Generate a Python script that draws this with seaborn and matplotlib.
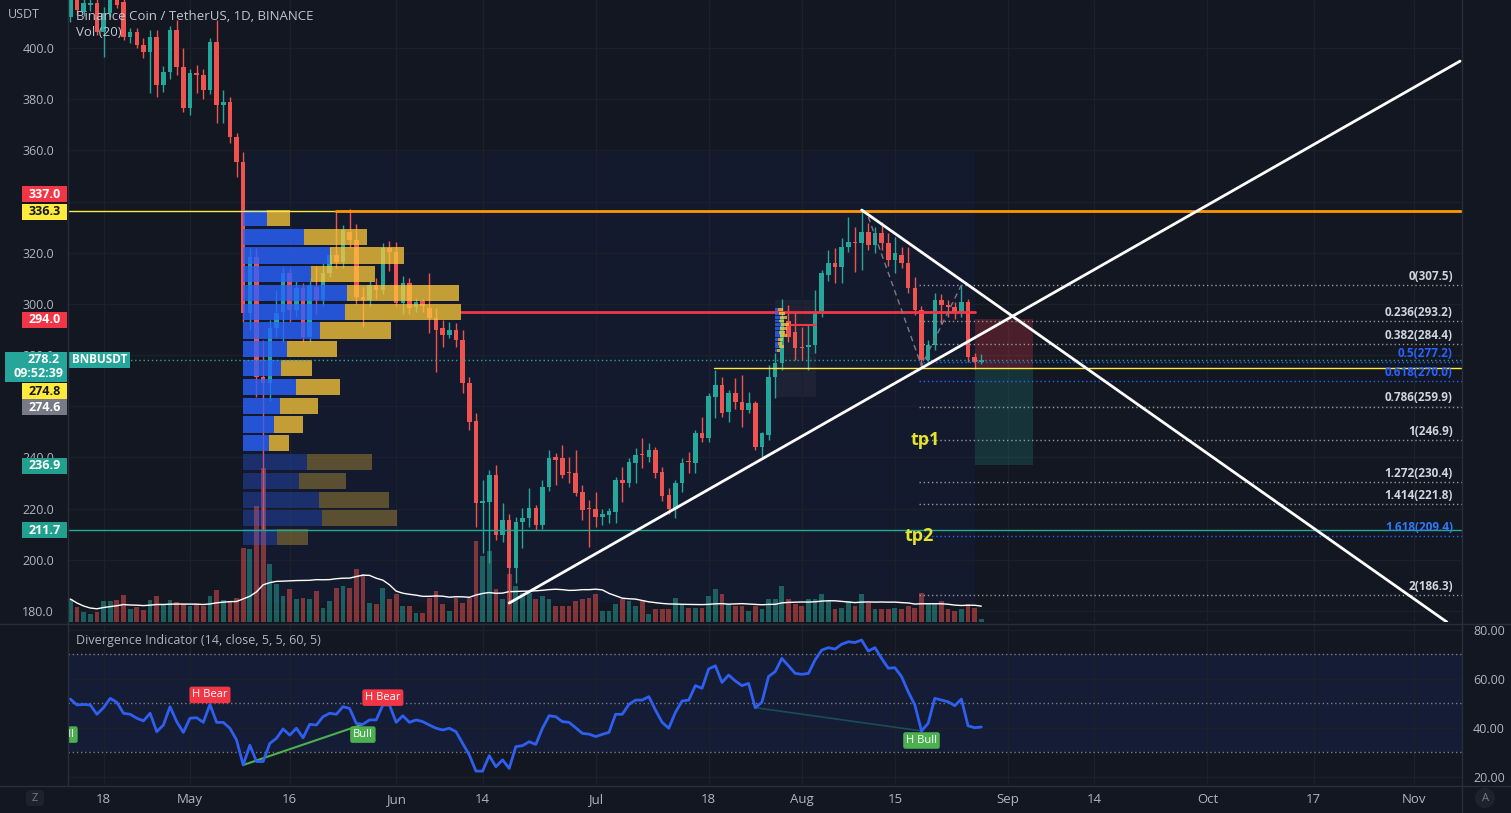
import numpy as np
import pandas as pd
import matplotlib
matplotlib.use("Agg")
import matplotlib.pyplot as plt
import seaborn as sns
from matplotlib.patches import Rectangle, FancyBboxPatch, Circle
from matplotlib.transforms import Affine2D, blended_transform_factory
from matplotlib.lines import Line2D

# ---------------------------------------------------------------- data
start_date = "2022-04-13"

opens = [412, 421, 414.2, 417, 417.5, 406.4, 413.7, 421, 418, 404.4, 406.3, 401.2, 398.5, 404.3, 385.5,
         390.7, 407, 392.6, 376.6, 390.3, 389.5, 383.6, 402.4, 377.7, 379, 365.2, 355.5,
         296.5, 318.3, 271.4, 269.1, 290.6, 297, 312, 297.6, 306.1, 287.2, 306.7, 301.5, 312, 319.1,
         316.5, 328.2, 325, 302.8, 301.5, 307.4, 305.4, 321.7, 320.4, 300.2, 308.1, 298.9, 301, 298.3,
         294.4, 290.5, 287.9, 289.8, 285.9, 269.2, 254.2, 222.1, 222.7, 233.1, 209.7, 215.5, 196.7,
         214.9, 216.2, 220.1, 213.6, 228.6, 240.3, 239.7, 234.5, 233.8, 226.6, 220.3, 219.7,
         216.6, 217.5, 218.8, 231.2, 229.9, 237.9, 241.5, 240.3, 242.9, 234.4, 225.3, 219.7, 229.9,
         238.7, 237.9, 249.4, 247.5, 263.7, 268.3, 257.9, 265.1, 261.8, 258.5, 261.2, 244.2, 248.8,
         271.6, 276.8, 293.5, 289, 283.3, 283.3, 284, 297, 311.3, 315.9, 314.5, 322.4, 324.3, 323.7,
         328.2, 323, 327.6, 323.7, 317.2, 319.1, 315.9, 306.1, 297.6, 278.1, 284, 301.5, 299.6, 298.9,
         296.3, 300.9, 279.4, 277.4]
highs = [424, 424, 420, 421, 419.5, 416, 423, 425, 426, 408, 408, 404, 407, 407, 393, 408.5, 411, 400,
         392, 393.4, 392, 404, 411, 383.6, 381, 366.8, 359.4,
         321.9, 322, 286, 293.7, 305.4, 314.5, 314, 309, 308, 310, 315, 316, 322.4, 336.5, 331, 337.0,
         331.4, 306.7, 309, 310, 324, 324.6, 324.3, 311, 310, 302.5, 302, 312, 298.3, 293.7, 293,
         292.4, 289.8, 271.6, 257.3, 231, 235.1, 237, 222.1, 218, 216.8, 220.1, 227.9, 221.4, 231.2,
         242.9, 241.6, 244.9, 240.3, 242.9, 229.2, 223.4, 226.6,
         219.7, 220.2, 232.5, 236.4, 239.7, 243.6, 247.5, 245.5, 244, 236.4, 227.9, 231.2, 239.7,
         242.3, 250.7, 256, 265.1, 274.2, 271.6, 266.4, 270.9, 272.2, 265.7, 262, 250, 276, 280.7,
         302, 299.6, 297, 291.1, 291.8, 305.4, 313.3, 321, 321.7, 325.6, 334.1, 330.2, 336.7, 331.5,
         330, 332.1, 327.6, 326.3, 322.4, 322.4, 310.6, 299, 286, 304.1, 304, 301.5, 300.7, 307.4,
         302, 281, 280.5]
lows = [410, 413, 412.5, 414.5, 405, 396.5, 412, 415.5, 403, 402, 400, 396, 382.5, 381, 383, 388,
        389.5, 375, 374, 382.4, 380, 382, 370.7, 370.7, 363, 349.6, 293,
        290, 263.6, 211.7, 262, 287, 285.2, 293, 295, 285, 285, 296, 299, 310.6, 314, 314, 322, 300,
        291.1, 299, 302, 304, 313, 299, 296, 296, 297, 297, 288.5, 273.5, 283.3, 286.5, 283.3, 265.1,
        250.7, 213, 202.5, 198.6, 207.7, 207.1, 183.1, 190.8, 204.5, 213, 211.6, 212, 227, 229.2,
        232, 229.9, 225, 215.5, 205.1, 213,
        213.6, 214.3, 214.3, 222.7, 228.6, 229.9, 235.8, 238.3, 231.8, 223, 218, 216.2, 226.6,
        233.8, 233.8, 246.2, 246, 255.3, 256, 254, 259, 252, 257.3, 243, 240.3, 247, 263.1, 274,
        285, 278.1, 278.1, 274.2, 280.7, 295, 309, 308.1, 308.1, 320.4, 312.6, 313.3, 321, 320, 321,
        315, 312, 314, 304.1, 295.7, 275.5, 276.5, 282, 292, 295, 294, 295, 277.4, 274.6, 276.5]
closes = [419, 415, 417.5, 417.6, 406.4, 413.7, 419.5, 417, 404.4, 406.3, 401.2, 398.5, 404.3, 385.5,
          390.7, 407, 392.6, 376.6, 390.3, 389.3, 383.6, 402.4, 377.7, 379, 365.2, 355.5, 296.5,
          318.3, 271.4, 269.1, 290.5, 296.3, 312, 297.6, 306.1, 287.2, 307.4, 301.5, 312, 319.1,
          316.5, 328.9, 325, 302.8, 301.5, 307.4, 305.4, 321.7, 320.4, 300.2, 308.1, 298.3, 300.9,
          299, 294.4, 289.8, 287.9, 289.8, 285.9, 269, 254, 222.1, 223, 233.1, 209.7, 215.5, 196.7,
          214.9, 216.2, 220.1, 213.6, 228.6, 239.7, 239, 233.1, 233.8, 226, 219.5, 219.7, 216.8,
          217.9, 219.2, 231.2, 229.9, 238.3, 240.9, 240.9, 242.9, 233.8, 224.9, 219.7, 229.9, 237.9,
          238.3, 249.4, 247.5, 264, 268.3, 257.3, 265.1, 261.8, 258.5, 261.2, 244.2, 249.4, 271.6,
          276.8, 295, 287.2, 282.6, 282.6, 284, 297, 312, 315.9, 314.5, 322.4, 324.3, 323.7, 328.2,
          323, 327.6, 323.7, 317.2, 319.8, 315.9, 306.1, 297.6, 278.1, 284, 301.5, 299.6, 298.9,
          296.3, 300.9, 279.4, 277.4, 278.2]
# daily volume (x10k BNB)
volume = [23, 15, 10, 8, 10, 21, 21, 22, 27, 13, 15, 12, 22, 26, 18, 22, 20, 18, 16, 18, 16, 26, 32,
          22, 20, 24, 74,
          73, 116, 154, 58, 38, 26, 33, 23, 24, 23, 31, 14, 21, 34, 36, 34, 53, 48, 19, 18, 34, 23, 28,
          16, 16, 9, 9, 24, 31, 18, 11, 24, 19, 24, 81, 66, 71, 33, 23, 48, 36, 29, 29, 23, 26, 23, 16,
          16, 16, 21, 23, 24, 28,
          11, 11, 18, 23, 21, 16, 21, 8, 13, 13, 13, 24, 18, 14, 14, 14, 26, 33, 28, 18, 16, 16, 11,
          16, 13, 23, 23, 36, 23, 18, 16, 23, 23, 28, 21, 13, 14, 21, 16, 28, 19, 13, 13, 13, 14, 13,
          16, 14, 29, 18, 18, 21, 13, 11, 13, 18, 14, 3]
# divergence indicator (RSI 14)
rsi = [51.8, 49.4, 49.6, 49.4, 45.6, 48.3, 52.1, 50.5, 46.0, 45.6, 44.0, 42.9, 46.0, 38.5, 41.2,
       48.7, 42.6, 38.2, 44.0, 44.2, 42.3, 49.6, 42.3, 42.3, 39.9, 35.1, 24.9, 33.0, 26.3, 26.3,
       33.7, 35.8, 39.6, 37.1, 39.9, 36.0, 41.5, 41.2, 44.6, 46.0, 45.6, 48.7, 48.0, 41.9, 41.5,
       43.3, 43.3, 49.4, 49.4, 42.3, 45.0, 42.3, 43.3, 42.6, 41.2, 39.9, 39.2, 39.9, 38.5, 33.7,
       29.0, 22.4, 22.4, 28.7, 24.2, 27.0, 23.5, 32.4, 32.8, 34.4, 33.3, 39.9, 45.0, 44.6, 42.6,
       42.3, 40.1, 37.8, 37.5, 36.5, 37.4, 38.2, 45.6, 45.6, 49.6, 51.4, 51.4, 52.8, 47.3, 42.3,
       39.9, 46.4, 51.0, 51.4, 57.3, 56.2, 64.1, 65.4, 58.6, 61.6, 59.2, 57.3, 58.2, 48.3, 50.5,
       61.0, 63.0, 68.4, 65.4, 62.3, 61.9, 62.3, 67.8, 71.8, 72.8, 72.2, 74.2, 75.2, 74.9, 75.9,
       71.4, 72.8, 68.4, 64.4, 64.6, 61.0, 54.8, 49.4, 38.8, 41.9, 52.1, 51.4, 50.7, 49.1, 51.8,
       40.9, 40.1, 40.4]

tick_dates = ["2022-04-18", "2022-05-01", "2022-05-16", "2022-06-01", "2022-06-14", "2022-07-01",
              "2022-07-18", "2022-08-01", "2022-08-15", "2022-09-01", "2022-09-14", "2022-10-01",
              "2022-10-17", "2022-11-01"]
tick_labels = ["18", "May", "16", "Jun", "14", "Jul", "18", "Aug", "15", "Sep", "14", "Oct", "17", "Nov"]
price_ticks = [180, 200, 220, 240, 260, 280, 300, 320, 340, 360, 380, 400]
hidden_price_ticks = [260, 340]     # fully covered by the price tags in the reference
osc_ticks = [20, 40, 60, 80]

# fixed range volume profile (rows top -> bottom)
vp_top, vp_row = 337.3, 7.34
vp_up = [24, 61, 87, 68, 104, 102, 77, 44, 38, 53, 37, 31, 26, 64, 56, 76, 79, 34]
vp_down = [23, 63, 74, 64, 112, 116, 71, 50, 31, 44, 38, 29, 20, 65, 47, 70, 75, 31]
vp_value_rows = 13
vp_poc = 296.9
vp_range = ("2022-05-09", "2022-08-27", 183.1, 359.4)
vp2_top, vp2_row = 298.4, 1.45
vp2_up = [3, 4, 5, 4, 6, 5, 4, 5, 3, 3, 4, 2]
vp2_down = [5, 6, 7, 5, 8, 7, 6, 7, 5, 4, 5, 3]
vp2_range = ("2022-07-28", "2022-08-03", 263.6, 301.5)
vp2_poc = 291.8

fib_ratio_txt = ["0", "0.236", "0.382", "0.5", "0.618", "0.786", "1", "1.272", "1.414", "1.618", "2"]
fib_prices = [307.5, 293.2, 284.4, 277.2, 270.0, 259.9, 246.9, 230.4, 221.8, 209.4, 186.3]

res_level, res_orange = 336.3, 336.5
high_label = 337.0
entry, stop, target = 274.8, 294.0, 236.9
low_label = 274.6
may_low = 211.7
last_price = 278.2

up_line = [("2022-06-18", 183.1), ("2022-11-08", 394.9)]
down_line = [("2022-08-10", 336.7), ("2022-11-06", 175.7)]
zigzag = [("2022-08-11", 334.0), ("2022-08-19", 275.8), ("2022-08-25", 307.4)]

# ---------------------------------------------------------------- style
W, H = 1511, 813
BG = "#131722"
GRID = "#1c202b"
TXT = "#b2b5be"
BORDER = "#2a2e39"
UP, DN = "#26a69a", "#ef5350"

sns.set_theme(style="dark", rc={"axes.facecolor": BG, "figure.facecolor": BG})
plt.rcParams["font.family"] = ["Open Sans", "DejaVu Sans"]

t0 = pd.Timestamp(start_date)


def day_idx(d):
    return (pd.Timestamp(d) - t0).days


fig = plt.figure(figsize=(W / 100, H / 100), dpi=100)
fig.patch.set_facecolor(BG)
PX = Affine2D().scale(1.0 / W, -1.0 / H).translate(0, 1) + fig.transFigure

L, R = 68, 1462


def rect_px(l, t, r, b):
    return [l / W, 1 - b / H, (r - l) / W, (b - t) / H]


axv = fig.add_axes(rect_px(L, 0, R, 622))
ax = fig.add_axes(rect_px(L, 0, R, 622))
ax.set_facecolor("none")
ax2 = fig.add_axes(rect_px(L, 625, R, 785))
axv.set_facecolor(BG)
ax2.set_facecolor(BG)

x = np.arange(len(closes))
XL = (-0.346, 209.28)
YL = (175.7, 418.77)
OL = (16.73, 82.04)
for a in (axv, ax, ax2):
    a.set_xlim(*XL)
    for s in a.spines.values():
        s.set_visible(False)
ax.set_ylim(*YL)
axv.set_ylim(0, 622)
ax2.set_ylim(*OL)

tick_x = [day_idx(d) for d in tick_dates]
cols = [UP if c >= o else DN for o, c in zip(opens, closes)]

# grid + range background (behind volume)
for t in tick_x:
    axv.axvline(t, color=GRID, lw=1, zorder=0.5)
    ax2.axvline(t, color=GRID, lw=1, zorder=0.5)
for p in price_ticks:
    axv.plot(XL, [p, p], transform=ax.transData, color=GRID, lw=1, zorder=0.5)
r0, r1 = day_idx(vp_range[0]), day_idx(vp_range[1])
axv.add_patch(Rectangle((r0, vp_range[2]), r1 - r0, vp_range[3] - vp_range[2], transform=ax.transData,
                        facecolor="#2962ff", alpha=0.05, edgecolor="none", zorder=0.3))
q0, q1 = day_idx(vp2_range[0]), day_idx(vp2_range[1]) + 0.1
axv.add_patch(Rectangle((q0, vp2_range[2]), q1 - q0, vp2_range[3] - vp2_range[2], transform=ax.transData,
                        facecolor="#ffffff", alpha=0.04, edgecolor="none", zorder=0.4))

# volume
axv.bar(x, volume, width=0.72, color=cols, alpha=0.5, linewidth=0, zorder=2)
vol_ma = pd.Series(volume, dtype=float).rolling(20, min_periods=1).mean().values
sns.lineplot(x=x, y=vol_ma, ax=axv, color="#ffffff", lw=1, zorder=3, legend=False)

# position tool
ps = day_idx("2022-08-27")
pw = 8.7
ax.add_patch(Rectangle((ps, entry), pw, stop - entry, facecolor="#f23645", alpha=0.25, edgecolor="none", zorder=1))
ax.add_patch(Rectangle((ps, target), pw, entry - target, facecolor="#26a69a", alpha=0.2, edgecolor="none", zorder=1))

# candles
ax.vlines(x, lows, highs, colors=cols, lw=1, zorder=3)
body_lo = np.minimum(opens, closes)
body_h = np.maximum(np.abs(np.subtract(closes, opens)), 0.45)
ax.bar(x, body_h, bottom=body_lo, width=0.68, color=cols, linewidth=0, zorder=4)

# volume profiles
VP_SCALE = 0.15
vp_total = [u + d for u, d in zip(vp_up, vp_down)]
for k in range(len(vp_up)):
    yc = vp_top - vp_row * (k + 0.5)
    bright = k < vp_value_rows
    wu, wd = vp_up[k] * VP_SCALE, vp_down[k] * VP_SCALE
    ax.barh(yc, wu, left=r0, height=vp_row * 0.86, color="#2962ff", alpha=0.8 if bright else 0.3,
            linewidth=0, zorder=5)
    ax.barh(yc, wd, left=r0 + wu, height=vp_row * 0.86, color="#ffca3a", alpha=0.75 if bright else 0.3,
            linewidth=0, zorder=5)
for k in range(len(vp2_up)):
    yc = vp2_top - vp2_row * (k + 0.5)
    wu, wd = vp2_up[k] * VP_SCALE, vp2_down[k] * VP_SCALE
    ax.barh(yc, wu, left=q0, height=vp2_row * 0.8, color="#2962ff", alpha=0.8, linewidth=0, zorder=5)
    ax.barh(yc, wd, left=q0 + wu, height=vp2_row * 0.8, color="#ffca3a", alpha=0.75, linewidth=0, zorder=5)

# POC lines (extend from the widest row to the range end)
ax.plot([r0 + max(vp_total) * VP_SCALE, r1], [vp_poc, vp_poc], color="#f23645", lw=2, zorder=4.5)
ax.plot([q0 + 1.6, q1], [vp2_poc, vp2_poc], color="#f23645", lw=1.5, zorder=4.5)

# horizontal levels
o0 = day_idx("2022-05-23")
ax.plot([XL[0], o0], [res_level, res_level], color="#ffeb3b", lw=1, zorder=6)
ax.plot([o0, XL[1]], [res_orange, res_orange], color="#ff9800", lw=2, zorder=6)
ax.plot([day_idx("2022-07-19") - 0.2, XL[1]], [entry, entry], color="#ffeb3b", lw=1, zorder=6)
ax.plot(XL, [may_low, may_low], color="#22ab94", lw=1, zorder=6)
ax.plot(XL, [last_price, last_price], color="#26a69a", lw=1, ls=(0, (1, 2)), zorder=6)

# fibonacci
fib_x0 = day_idx("2022-08-19") - 0.3
blend = blended_transform_factory(ax.transAxes, ax.transData)
for rt, p in zip(fib_ratio_txt, fib_prices):
    if rt in ("0.5", "0.618"):
        lc, tc = "#2962ff", "#2962ff"
    elif rt == "1.618":
        lc, tc = "#2962ff", "#3179f5"
    else:
        lc, tc = "#9598a1", "#d1d4dc"
    ax.plot([fib_x0, XL[1]], [p, p], color=lc, lw=1, ls=(0, (1, 2)), zorder=6)
    ax.annotate(f"{rt}({p:.1f})", xy=(0.9935, p), xycoords=blend, xytext=(0, 6.2),
                textcoords="offset points", ha="right", va="center", color=tc, fontsize=8.5,
                fontweight="bold", zorder=7)

# trend lines
for ln in (up_line, down_line):
    ax.plot([day_idx(d) for d, _ in ln], [p for _, p in ln], color="white", lw=2,
            solid_capstyle="round", zorder=7)
ax.plot([day_idx(d) for d, _ in zigzag], [p for _, p in zigzag], color="#787b86", lw=1,
        ls=(0, (4, 3)), zorder=6)

# tp texts
ax.text(day_idx("2022-08-19") + 0.5, fib_prices[6], "tp1", color="#e4e42a", fontsize=13,
        fontweight="bold", ha="center", va="center", zorder=8)
ax.text(day_idx("2022-08-19") - 0.4, fib_prices[9], "tp2", color="#e4e42a", fontsize=13,
        fontweight="bold", ha="center", va="center", zorder=8)

# ---------------------------------------------------------------- oscillator
ax2.axhspan(30, 70, facecolor="#2962ff", alpha=0.09, edgecolor="none", zorder=0.3)
for v in osc_ticks:
    ax2.axhline(v, color=GRID, lw=1, zorder=0.6)
for v in (70, 50, 30):
    ax2.axhline(v, color="#787b86", lw=1, ls=(0, (1, 2)), zorder=1)
ax2.plot([day_idx("2022-05-09"), day_idx("2022-05-27")], [rsi[26], rsi[44]], color="#4caf50", lw=1.5, zorder=4)
ax2.plot([day_idx("2022-07-25"), day_idx("2022-08-19")], [rsi[103], rsi[128]], color="#26a69a", lw=1.2,
         alpha=0.35, zorder=4)
sns.lineplot(x=x, y=rsi, ax=ax2, color="#2f5ff0", lw=2, zorder=5, legend=False)


def osc_tag(d, yv, text, fc, dx=0.0):
    ax2.text(day_idx(d) + dx, yv, text, color="white", fontsize=8, ha="center", va="center", zorder=8,
             clip_on=True, bbox=dict(boxstyle="round,pad=0.25,rounding_size=0.2", fc=fc, ec="none"))


osc_tag("2022-05-04", 53.5, "H Bear", "#f23645")
osc_tag("2022-05-30", 52.4, "H Bear", "#f23645")
osc_tag("2022-05-27", 37.3, "Bull", "#4caf50")
osc_tag("2022-08-19", 34.9, "H Bull", "#4caf50")
osc_tag("2022-04-11", 37.3, "Bull", "#4caf50", dx=1.2)

# ---------------------------------------------------------------- axes ticks
axv.set_xticks([])
axv.set_yticks([])
axv.set_xlabel("")
axv.set_ylabel("")
ax.set_xticks([])
shown_ticks = [p for p in price_ticks if p not in hidden_price_ticks]
ax.set_yticks(shown_ticks)
ax.set_yticklabels([f"{p:.1f}" for p in shown_ticks])
ax.yaxis.set_ticks_position("left")
ax.tick_params(axis="y", length=0, pad=10, labelsize=9, labelcolor=TXT)
ax2.yaxis.tick_right()
ax2.set_yticks(osc_ticks)
ax2.set_yticklabels([f"{v:.2f}" for v in osc_ticks])
ax2.set_xticks(tick_x)
ax2.set_xticklabels(tick_labels)
ax2.tick_params(axis="y", length=0, pad=8, labelsize=9, labelcolor=TXT)
ax2.tick_params(axis="x", length=0, pad=6, labelsize=9.5, labelcolor=TXT)
ax2.set_xlabel("")
ax2.set_ylabel("")

# ---------------------------------------------------------------- frame lines
for (xa, ya, xb, yb) in [(0, 623.5, W, 623.5), (0, 785.5, W, 785.5), (L, 0, L, 785), (R, 0, R, H)]:
    fig.add_artist(Line2D([xa, xb], [ya, yb], transform=PX, color=BORDER, lw=1))


def price_px(p):
    return (YL[1] - p) / (YL[1] - YL[0]) * 622


def axis_box(price, text, fc, tc, dy=0.0, x0=22, x1=67, h=16):
    yc = price_px(price) + dy
    fig.add_artist(Rectangle((x0, yc - h / 2), x1 - x0, h, transform=PX, facecolor=fc, edgecolor="none"))
    fig.text((x0 + x1) / 2, yc, text, transform=PX, ha="center", va="center", color=tc, fontsize=9,
             fontweight="bold")


axis_box(high_label, f"{high_label:.1f}", "#f23645", "white", dy=-15)
axis_box(res_level, f"{res_level:.1f}", "#ffeb3b", "#131722", dy=0.5)
axis_box(stop, f"{stop:.1f}", "#f23645", "white", dy=0.7)
axis_box(entry, f"{entry:.1f}", "#ffeb3b", "#131722", dy=22.6)
axis_box(low_label, f"{low_label:.1f}", "#787b86", "white", dy=38.5)
axis_box(target, f"{target:.1f}", "#22a08f", "white", dy=0.6)
axis_box(may_low, f"{may_low:.1f}", "#22a08f", "white", dy=0.6)

# last price tag (two lines) + symbol tag
yl = price_px(last_price)
fig.add_artist(Rectangle((5, yl - 8), 62, 30, transform=PX, facecolor="#26a69a", edgecolor="none"))
fig.text(44, yl, f"{last_price:.1f}", transform=PX, ha="center", va="center", color="white",
         fontsize=9, fontweight="bold")
fig.text(38, yl + 14, "09:52:39", transform=PX, ha="center", va="center", color="white",
         fontsize=9, fontweight="bold")
fig.add_artist(Rectangle((69, yl - 8), 61, 16, transform=PX, facecolor="#26a69a", edgecolor="none"))
fig.text(99.5, yl, "BNBUSDT", transform=PX, ha="center", va="center", color="white", fontsize=8.5,
         fontweight="bold")

# titles
fig.text(24, 14, "USDT", transform=PX, ha="center", va="center", color=TXT, fontsize=9)
fig.text(76, 16, "Binance Coin / TetherUS, 1D, BINANCE", transform=PX, ha="left", va="center",
         color="#c3c6ce", fontsize=9.5)
fig.text(76, 33, "Vol (20)", transform=PX, ha="left", va="center", color="#c3c6ce", fontsize=9.5)
fig.text(76, 640, "Divergence Indicator (14, close, 5, 5, 60, 5)", transform=PX, ha="left", va="center",
         color=TXT, fontsize=9)

# small UI buttons
fig.add_artist(FancyBboxPatch((26, 790), 18, 16, boxstyle="round,pad=0,rounding_size=4", transform=PX,
                              facecolor="#1e222d", edgecolor="none"))
fig.text(35, 798, "Z", transform=PX, ha="center", va="center", color="#787b86", fontsize=8)
fig.add_artist(Circle((1485, 798), 10, transform=PX, facecolor="#1e222d", edgecolor="none"))
fig.text(1485, 798, "A", transform=PX, ha="center", va="center", color="#787b86", fontsize=8)

fig.savefig("out.png", dpi=100, facecolor=BG)
